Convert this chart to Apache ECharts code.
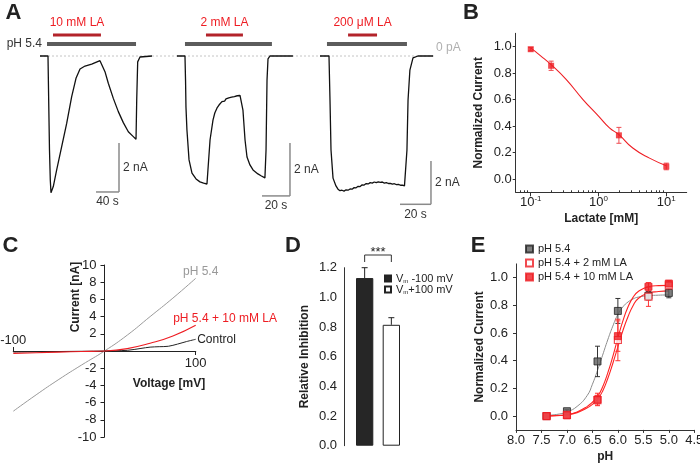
<!DOCTYPE html>
<html><head><meta charset="utf-8">
<script src="https://cdn.jsdelivr.net/npm/echarts@6.0.0/dist/echarts.min.js"></script>
<style>html,body{margin:0;padding:0;background:#fff}#c{width:700px;height:468px}</style>
</head><body><div id="c"></div>
<script>
// ================= DATA =================
// Panel A: current traces [time (s), current (nA)]
const trace1 = [[0,0],[13.9,0],[15.1,-1.8],[16.5,-3.84],[17.9,-5.06],[19.1,-5.58],[23.1,-5.33],[29,-4.65],[37.7,-3.7],[46.4,-2.75],[55.1,-1.66],[62.6,-0.91],[69.6,-0.53],[78.3,-0.41],[89.9,-0.33],[104.3,-0.19],[107.3,-0.23],[113,-0.64],[118.8,-1.11],[127.5,-1.73],[136.2,-2.27],[144.9,-2.72],[153.6,-3.09],[162.3,-3.29],[167,-3.4],[168.2,-1.8],[169.9,-0.24],[173.9,-0.04],[194.8,0]];
const trace2 = [[0,0],[5.7,0],[6.1,-0.91],[6.4,-1.92],[7.1,-2.79],[8.6,-3.92],[10.7,-4.42],[13.6,-4.64],[16.4,-4.75],[19,-4.8],[21.4,-4.83],[22.1,-4.3],[23.6,-3.17],[25.7,-2.42],[27,-2.15],[28.6,-1.96],[30,-1.85],[31,-1.78],[32.1,-1.72],[33,-1.68],[34,-1.7],[35,-1.62],[36,-1.65],[37,-1.58],[38,-1.62],[39,-1.55],[40,-1.6],[41,-1.53],[42,-1.57],[43,-1.5],[44,-1.55],[45,-1.49],[46.4,-1.52],[47.1,-2.04],[48.6,-3.17],[50,-3.81],[52.1,-4.11],[54.3,-4.3],[57.8,-4.45],[60,-4.52],[62.8,-4.6],[63.6,-3.55],[64.3,-0.91],[65,-0.11],[66.4,0],[82.8,0]];
const trace3 = [[0,0],[5.8,0],[6.45,-2.03],[7.1,-4.34],[8.4,-5.64],[10.3,-6.0],[11.6,-6.15],[12.9,-6.22],[14.2,-6.2],[15.5,-6.24],[16.8,-6.18],[18.1,-6.2],[19.4,-6.14],[20.7,-6.15],[22,-6.08],[23.3,-6.09],[24.6,-6.02],[25.9,-6.03],[27.2,-5.95],[28.5,-5.96],[29.8,-5.89],[31.1,-5.91],[32.4,-5.85],[33.7,-5.87],[35,-5.82],[36.3,-5.85],[37.6,-5.81],[38.9,-5.84],[40.2,-5.82],[41.5,-5.87],[42.8,-5.85],[44.1,-5.89],[45.4,-5.88],[46.7,-5.92],[48,-5.9],[49.3,-5.94],[50.6,-5.93],[51.9,-5.97],[53.2,-5.96],[54.5,-6.0],[55.5,-6.0],[56.1,-4.34],[56.8,-2.03],[58,-0.65],[60,-0.09],[63.2,0],[72.9,0]];
const stimPH = [[12.2,167],[5.7,67.8],[4.5,56.1]];     // pH 5.4 application (s)
const stimLA = [[22.6,106],[20.7,47.1],[18.1,36.8]];   // lactate application (s)
const stimLabels = ['10 mM LA','2 mM LA','200 \u03bcM LA'];
const scaleTime = [40,20,20];      // s
const scaleCurrent = [2,2,2];      // nA

// Panel B: dose response
const lacConc = [0.1,0.2,2,10];
const lacMean = [0.98,0.855,0.33,0.095];
const lacErr  = [0.012,0.035,0.06,0.025];
const lacFitConc = [0.1,0.14,0.2,0.33,0.59,1,1.45,2,3.2,5.65,10];
const lacFitVal  = [0.99,0.93,0.863,0.754,0.60,0.475,0.386,0.335,0.234,0.158,0.101];
const logTickLabels = [-1,0,1];

// Panel C: I-V curves
const ivV    = [-100,-75,-50,-25,0,25,50,75,100];
const ivPH   = [-7.0,-5.1,-3.3,-1.62,0,1.85,4.0,6.15,8.45];
const ivLA   = [-0.28,-0.2,-0.13,-0.06,0,0.28,0.9,1.75,3.0];
const ctrlV  = [-100,-50,0,25,40,50,60,70,80,90,100];
const ctrlI  = [-0.12,-0.06,0,0.08,0.3,0.45,0.5,0.55,0.8,1.1,1.36];

// Panel D: relative inhibition
const inhNames = ['Vm -100 mV','Vm+100 mV'];
const inhMean = [1.13,0.815];
const inhErr  = [0.07,0.048];

// Panel E: pH dependence
const phVals = [7.4,7.0,6.4,6.0,5.4,5.0];
const eNames = ['pH 5.4','pH 5.4 + 2 mM LA','pH 5.4 + 10 mM LA'];
const ph54Mean = [0.0,0.035,0.395,0.76,0.87,0.89];
const ph54Err  = [0.005,0.01,0.11,0.09,0.03,0.035];
const la2Mean  = [0.0,0.008,0.115,0.55,0.863,0.945];
const la2Err   = [0.005,0.005,0.035,0.15,0.07,0.02];
const la10Mean = [0.0,0.005,0.12,0.578,0.935,0.958];
const la10Err  = [0.005,0.005,0.045,0.11,0.03,0.02];
const fitPH   = [7.4,7.2,7.0,6.8,6.6,6.5,6.4,6.3,6.2,6.1,6.0,5.9,5.8,5.7,5.6,5.4,5.2,5.0];
const fit54   = [0.005,0.012,0.03,0.07,0.15,0.23,0.33,0.44,0.55,0.65,0.735,0.79,0.825,0.847,0.86,0.87,0.874,0.876];
const fit2    = [0.0,0.003,0.008,0.025,0.06,0.085,0.12,0.18,0.27,0.38,0.5,0.62,0.72,0.8,0.85,0.89,0.9,0.905];
const fit10   = [0.0,0.004,0.01,0.03,0.07,0.1,0.14,0.21,0.31,0.43,0.565,0.69,0.79,0.86,0.9,0.935,0.943,0.945];
const unitTicks = [0,0.2,0.4,0.6,0.8,1.0];

// ================= STYLE / LAYOUT =================
const FONT = "'Liberation Sans', Arial, Helvetica, sans-serif";
const RED = '#ee1d23';
const TXT = '#222';
const traceLayout = [
  {left:40, width:112, sPerPx:40/23, pxPerNA:24.5, corner:[137.4,-5.55]},
  {left:177, width:116, sPerPx:20/28, pxPerNA:26.5, corner:[80.7,-5.28]},
  {left:320, width:113, sPerPx:20/31, pxPerNA:21.65, corner:[71.6,-6.85]}
];
const A_TOP = 30, A_BASE = 56, A_BOTTOM = 220;

const grids = [];
const xAxes = [], yAxes = [];
traceLayout.forEach((t,i)=>{
  grids.push({left:t.left, top:A_TOP, width:t.width, height:A_BOTTOM-A_TOP, outerBoundsMode:'none'});
  xAxes.push({gridIndex:i, type:'value', show:false, min:0, max:t.width*t.sPerPx});
  yAxes.push({gridIndex:i, type:'value', show:false, min:-(A_BOTTOM-A_BASE)/t.pxPerNA, max:(A_BASE-A_TOP)/t.pxPerNA});
});
const gB = {left:515.7, top:33.3, width:171, height:159};
const gC = {left:13.3, top:265, width:182.4, height:172};
const gD = {left:344, top:267.7, width:68, height:178};
const gE = {left:516, top:263.9, width:178.3, height:166};
[gB,gC,gD,gE].forEach(g=>grids.push(Object.assign({outerBoundsMode:'none'}, g)));

const axLine = {show:true, onZero:false, lineStyle:{color:'#333', width:1}};
const lbl = (extra)=>Object.assign({color:TXT, fontSize:13, fontFamily:FONT}, extra||{});
const nameStyle = {color:TXT, fontSize:12, fontWeight:'bold', fontFamily:FONT};
const L = Math.log10;
const minorLog = [];
[-2,-1,0,1].forEach(n=>{for(let k=2;k<=9;k++){const v=L(k)+n; if(v>L(0.06)&&v<L(20)) minorLog.push(v);}});

// C axes cross at the origin
const C_X = [-100,100], C_Y = [-10,10];
const cZeroX = gC.left + gC.width*(0-C_X[0])/(C_X[1]-C_X[0]);
const cZeroY = gC.top + gC.height*(C_Y[1]-0)/(C_Y[1]-C_Y[0]);

// xAxis 3 (B major), 4 (B minor)
xAxes.push({gridIndex:3, type:'value', min:L(0.06), max:L(20), position:'bottom',
  axisLine:axLine, splitLine:{show:false},
  axisTick:{show:true, customValues:logTickLabels, length:4, lineStyle:{color:'#333'}},
  axisLabel:{customValues:logTickLabels, margin:2, formatter:v=>'{b|10}{s|'+Math.round(v)+'}',
    rich:{b:{fontSize:13,color:TXT,fontFamily:FONT}, s:{fontSize:8,color:TXT,fontFamily:FONT,padding:[0,0,9,0]}}},
  name:'Lactate [mM]', nameLocation:'middle', nameGap:20, nameTextStyle:nameStyle});
xAxes.push({gridIndex:3, type:'value', min:L(0.06), max:L(20), position:'bottom',
  axisLine:{show:false, onZero:false}, splitLine:{show:false}, axisLabel:{show:false},
  axisTick:{show:true, inside:true, customValues:minorLog, length:2, lineStyle:{color:'#333'}}});
// xAxis 5 (C bottom), 6 (C top)
xAxes.push({gridIndex:4, type:'value', min:C_X[0], max:C_X[1], position:'bottom', offset:-(gC.top+gC.height-cZeroY),
  axisLine:{show:true, onZero:false, lineStyle:{color:'#222'}}, splitLine:{show:false},
  axisTick:{customValues:[100], length:4, lineStyle:{color:'#222'}},
  axisLabel:lbl({customValues:[100], margin:6})});
xAxes.push({gridIndex:4, type:'value', min:C_X[0], max:C_X[1], position:'top', offset:-(cZeroY-gC.top),
  axisLine:{show:true, onZero:false, lineStyle:{color:'#222'}}, splitLine:{show:false},
  axisTick:{customValues:[-100], length:4, lineStyle:{color:'#222'}},
  axisLabel:lbl({customValues:[-100], margin:4})});
// xAxis 7 (D)
xAxes.push({gridIndex:5, type:'category', data:[''], show:false});
// xAxis 8 (E)
xAxes.push({gridIndex:6, type:'value', min:4.5, max:8.0, interval:0.5, inverse:true,
  axisLine:axLine, splitLine:{show:false},
  axisTick:{length:3, lineStyle:{color:'#333'}},
  axisLabel:lbl({margin:4, formatter:v=>v.toFixed(1)}),
  name:'pH', nameLocation:'middle', nameGap:21, nameTextStyle:nameStyle});

// yAxis 3 (B)
yAxes.push({gridIndex:3, type:'value', min:-0.1, max:1.1, axisLine:axLine, splitLine:{show:false},
  axisTick:{customValues:unitTicks, length:3, lineStyle:{color:'#333'}},
  axisLabel:lbl({customValues:unitTicks, margin:4, formatter:v=>v.toFixed(1)}),
  name:'Normalized Current', nameLocation:'middle', nameGap:31, nameTextStyle:nameStyle});
// yAxis 4 (C)
yAxes.push({gridIndex:4, type:'value', min:C_Y[0], max:C_Y[1], interval:2, position:'left', offset:-(cZeroX-gC.left),
  axisLine:{show:true, onZero:false, lineStyle:{color:'#222'}}, splitLine:{show:false},
  axisTick:{length:4, lineStyle:{color:'#222'}},
  axisLabel:lbl({margin:8, formatter:v=>v===0?'':String(v)})});
// yAxis 5 (D)
yAxes.push({gridIndex:5, type:'value', min:0, max:1.2, interval:0.2, axisLine:axLine, splitLine:{show:false},
  axisTick:{length:4, lineStyle:{color:'#333'}},
  axisLabel:lbl({margin:7, formatter:v=>v.toFixed(1)}),
  name:'Relative Inhibition', nameLocation:'middle', nameGap:33, nameTextStyle:nameStyle});
// yAxis 6 (E)
yAxes.push({gridIndex:6, type:'value', min:-0.1, max:1.1, axisLine:axLine, splitLine:{show:false},
  axisTick:{customValues:unitTicks, length:3, lineStyle:{color:'#333'}},
  axisLabel:lbl({customValues:unitTicks, margin:8, formatter:v=>v.toFixed(1)}),
  name:'Normalized Current', nameLocation:'middle', nameGap:30, nameTextStyle:nameStyle});

// ---------- helpers ----------
function errRender(color, capHalf, upOnly, dx){
  return function(params, api){
    const x = api.value(0), y = api.value(1), e = api.value(2);
    const t = api.coord([x, y+e]), b = api.coord([x, upOnly ? y : y-e]);
    const cx = t[0] + (dx||0);
    const st = {stroke:color, lineWidth:1};
    const ch = [
      {type:'line', shape:{x1:cx,y1:t[1],x2:cx,y2:b[1]}, style:st},
      {type:'line', shape:{x1:cx-capHalf,y1:t[1],x2:cx+capHalf,y2:t[1]}, style:st}
    ];
    if(!upOnly) ch.push({type:'line', shape:{x1:cx-capHalf,y1:b[1],x2:cx+capHalf,y2:b[1]}, style:st});
    return {type:'group', children:ch};
  };
}
const zipErr = (xs, ys, es)=>xs.map((x,i)=>[x, ys[i], es[i]]);
const zip = (xs, ys)=>xs.map((x,i)=>[x, ys[i]]);

const series = [];
// ----- Panel A -----
[trace1, trace2, trace3].forEach((tr,i)=>{
  series.push({type:'line', xAxisIndex:i, yAxisIndex:i, data:tr, showSymbol:false, silent:true,
    lineStyle:{color:'#111', width:1.3}, z:3});
  series.push({type:'custom', xAxisIndex:i, yAxisIndex:i, silent:true, z:4,
    data:[[stimPH[i][0], stimPH[i][1], stimLA[i][0], stimLA[i][1], i]],
    renderItem:function(params, api){
      const k = api.value(4);
      const a = api.coord([api.value(0),0]), b = api.coord([api.value(1),0]);
      const c = api.coord([api.value(2),0]), d = api.coord([api.value(3),0]);
      const y0 = a[1];
      const ch = [
        {type:'rect', shape:{x:a[0], y:y0-14, width:b[0]-a[0], height:4}, style:{fill:'#5c5c5c'}},
        {type:'rect', shape:{x:c[0], y:y0-22.5, width:d[0]-c[0], height:3}, style:{fill:'#b3232a'}},
        {type:'text', x:(c[0]+d[0])/2, y:y0-33, style:{text:stimLabels[k], fill:RED, fontSize:12, fontFamily:FONT, align:'center', verticalAlign:'middle'}}
      ];
      if(k===0) ch.push({type:'text', x:a[0]-5, y:y0-12, style:{text:'pH 5.4', fill:'#333', fontSize:12, fontFamily:FONT, align:'right', verticalAlign:'middle'}});
      return {type:'group', children:ch};
    }});
  series.push({type:'custom', xAxisIndex:i, yAxisIndex:i, silent:true, z:4,
    data:[[traceLayout[i].corner[0], traceLayout[i].corner[1], scaleTime[i], scaleCurrent[i]]],
    renderItem:function(params, api){
      const t = api.value(0), v = api.value(1), dt = api.value(2), di = api.value(3);
      const c = api.coord([t,v]), top = api.coord([t,v+di]), left = api.coord([t-dt,v]);
      const st = {stroke:'#8a8a8a', lineWidth:1.5};
      return {type:'group', children:[
        {type:'line', shape:{x1:c[0],y1:c[1],x2:top[0],y2:top[1]}, style:st},
        {type:'line', shape:{x1:left[0],y1:c[1],x2:c[0],y2:c[1]}, style:st},
        {type:'text', x:c[0]+4, y:(c[1]+top[1])/2, style:{text:di+' nA', fill:'#333', fontSize:12, fontFamily:FONT, align:'left', verticalAlign:'middle'}},
        {type:'text', x:(c[0]+left[0])/2, y:c[1]+10, style:{text:dt+' s', fill:'#333', fontSize:12, fontFamily:FONT, align:'center', verticalAlign:'middle'}}
      ]};
    }});
});
// ----- Panel B -----
series.push({type:'line', xAxisIndex:3, yAxisIndex:3, data:zip(lacFitConc.map(L), lacFitVal), smooth:true, showSymbol:false, silent:true, lineStyle:{color:RED, width:1.1}, z:2});
series.push({type:'custom', xAxisIndex:3, yAxisIndex:3, silent:true, z:3, data:zipErr(lacConc.map(L), lacMean, lacErr), renderItem:errRender('#f04a50',2.5,false)});
series.push({type:'scatter', name:'lactate', xAxisIndex:3, yAxisIndex:3, data:zip(lacConc.map(L), lacMean), symbol:'rect', symbolSize:6, silent:true, itemStyle:{color:RED}, z:4});
// ----- Panel C -----
series.push({type:'line', name:'ivPH', xAxisIndex:5, yAxisIndex:4, data:zip(ivV, ivPH), smooth:true, showSymbol:false, silent:true, lineStyle:{color:'#9a9a9a', width:1}, z:2});
series.push({type:'line', name:'ivCtrl', xAxisIndex:5, yAxisIndex:4, data:zip(ctrlV, ctrlI), smooth:0.3, showSymbol:false, silent:true, lineStyle:{color:'#222', width:1}, z:3});
series.push({type:'line', name:'ivLA', xAxisIndex:5, yAxisIndex:4, data:zip(ivV, ivLA), smooth:true, showSymbol:false, silent:true, lineStyle:{color:RED, width:1.1}, z:4});
// ----- Panel D -----
const BAR_W = 17.3, BAR_GAP = 9.4;
series.push({type:'bar', name:inhNames[0], xAxisIndex:7, yAxisIndex:5, data:[inhMean[0]], barWidth:BAR_W, barGap:(BAR_GAP/BAR_W*100)+'%', silent:true, itemStyle:{color:'#262626', borderColor:'#222', borderWidth:1}, z:2});
series.push({type:'bar', name:inhNames[1], xAxisIndex:7, yAxisIndex:5, data:[inhMean[1]], barWidth:BAR_W, barGap:(BAR_GAP/BAR_W*100)+'%', silent:true, itemStyle:{color:'#fff', borderColor:'#222', borderWidth:1}, z:2});
inhMean.forEach((m,i)=>{
  series.push({type:'custom', xAxisIndex:7, yAxisIndex:5, silent:true, z:1, data:[[0, m, inhErr[i]]], renderItem:errRender('#222',3,true,(i===0?-1:1)*(BAR_W+BAR_GAP)/2)});
});
series.push({type:'custom', xAxisIndex:7, yAxisIndex:5, silent:true, z:3,
  data:[[0, Math.max(...inhMean.map((m,i)=>m+inhErr[i]))]],
  renderItem:function(params, api){
    const p = api.coord([0, api.value(1)]);
    const off = (BAR_W+BAR_GAP)/2, y = p[1]-12.7;
    return {type:'group', children:[
      {type:'polyline', shape:{points:[[p[0]-off,y+7],[p[0]-off,y],[p[0]+off,y],[p[0]+off,y+7]]}, style:{stroke:'#333', lineWidth:1, fill:null}},
      {type:'text', x:p[0], y:y-3, style:{text:'***', fill:'#222', fontSize:13, fontFamily:FONT, align:'center', verticalAlign:'middle'}}
    ]};
  }});
// ----- Panel E -----
series.push({type:'line', xAxisIndex:8, yAxisIndex:6, data:zip(fitPH, fit54), smooth:true, showSymbol:false, silent:true, lineStyle:{color:'#8c8c8c', width:1}, z:2});
series.push({type:'line', xAxisIndex:8, yAxisIndex:6, data:zip(fitPH, fit2), smooth:true, showSymbol:false, silent:true, lineStyle:{color:'#f22', width:1.1}, z:2});
series.push({type:'line', xAxisIndex:8, yAxisIndex:6, data:zip(fitPH, fit10), smooth:true, showSymbol:false, silent:true, lineStyle:{color:'#f22', width:1.1}, z:2});
series.push({type:'custom', xAxisIndex:8, yAxisIndex:6, silent:true, z:3, data:zipErr(phVals, ph54Mean, ph54Err), renderItem:errRender('#333',2.5,false)});
series.push({type:'custom', xAxisIndex:8, yAxisIndex:6, silent:true, z:3, data:zipErr(phVals, la2Mean, la2Err), renderItem:errRender('#f33',2.5,false)});
series.push({type:'custom', xAxisIndex:8, yAxisIndex:6, silent:true, z:3, data:zipErr(phVals, la10Mean, la10Err), renderItem:errRender('#f33',2.5,false)});
series.push({type:'scatter', name:eNames[0], xAxisIndex:8, yAxisIndex:6, data:zip(phVals, ph54Mean), symbol:'rect', symbolSize:7, silent:true, itemStyle:{color:'#5e5e5e', borderColor:'#222', borderWidth:1}, z:4});
series.push({type:'scatter', name:eNames[1], xAxisIndex:8, yAxisIndex:6, data:zip(phVals, la2Mean), symbol:'rect', symbolSize:7, silent:true, itemStyle:{color:'#fff', borderColor:RED, borderWidth:1.2}, z:5});
series.push({type:'scatter', name:eNames[2], xAxisIndex:8, yAxisIndex:6, data:zip(phVals, la10Mean), symbol:'rect', symbolSize:7, silent:true, itemStyle:{color:RED, borderColor:RED, borderWidth:1}, z:6});

const legTxt = {color:TXT, fontSize:11, fontFamily:FONT, lineHeight:11};
const letter = (t,x,y)=>({type:'text', x:x, y:y, style:{text:t, fontSize:22, fontWeight:'bold', fill:'#222', fontFamily:FONT, align:'center', verticalAlign:'middle'}});
const option = {
  animation:false,
  textStyle:{fontFamily:FONT},
  grid:grids, xAxis:xAxes, yAxis:yAxes, series:series,
  legend:[
    {data:eNames, orient:'vertical', left:525, top:243.5, padding:0, itemGap:3, itemWidth:7, itemHeight:7, icon:'rect', selectedMode:false, textStyle:legTxt},
    {data:inhNames, orient:'vertical', left:384, top:273, padding:0, itemGap:0, itemWidth:6, itemHeight:6, icon:'rect', selectedMode:false,
      formatter:n=>n.replace('Vm','V{s|m}'),
      textStyle:Object.assign({}, legTxt, {rich:{s:{fontSize:6, color:TXT, fontFamily:FONT, verticalAlign:'bottom'}}})}
  ],
  graphic:[
    letter('A',13.5,13), letter('B',471,13), letter('C',10.5,246), letter('D',293,246), letter('E',478,246),
    {type:'text', x:76, y:297, rotation:Math.PI/2, style:{text:'Current [nA]', fontSize:12, fontWeight:'bold', fill:TXT, fontFamily:FONT, align:'center', verticalAlign:'middle'}},
    {type:'text', x:169, y:384, style:{text:'Voltage [mV]', fontSize:12, fontWeight:'bold', fill:TXT, fontFamily:FONT, align:'center', verticalAlign:'middle'}}
  ]
};
const chart = echarts.init(document.getElementById('c'), null, {renderer:'canvas'});
chart.setOption(option);

// annotations anchored on data through the axes
const p0 = chart.convertToPixel({gridIndex:0}, [0,0]);
const p1 = chart.convertToPixel({gridIndex:2}, [trace3[trace3.length-1][0],0]);
const ePH = chart.convertToPixel({gridIndex:4}, [ivV[ivV.length-1], ivPH[ivPH.length-1]]);
const eLA = chart.convertToPixel({gridIndex:4}, [ivV[ivV.length-1], ivLA[ivLA.length-1]]);
const eCt = chart.convertToPixel({gridIndex:4}, [ctrlV[ctrlV.length-1], ctrlI[ctrlI.length-1]]);
chart.setOption({graphic:option.graphic.concat([
  {type:'line', z:-1, shape:{x1:p0[0], y1:p0[1], x2:p1[0]+2, y2:p1[1]}, style:{stroke:'#c4c4c4', lineWidth:1, lineDash:[2,2]}},
  {type:'text', x:p1[0]+3, y:p1[1]-8, style:{text:'0 pA', fontSize:12, fill:'#b0b0b0', fontFamily:FONT, align:'left', verticalAlign:'middle'}},
  {type:'text', x:ePH[0]+5, y:ePH[1]-6.5, style:{text:'pH 5.4', fontSize:12, fill:'#999', fontFamily:FONT, align:'center', verticalAlign:'middle'}},
  {type:'text', x:eLA[0]-22.5, y:eLA[1]-7, style:{text:'pH 5.4 + 10 mM LA', fontSize:12, fill:RED, fontFamily:FONT, align:'left', verticalAlign:'middle'}},
  {type:'text', x:eCt[0]+1.5, y:eCt[1], style:{text:'Control', fontSize:12, fill:'#222', fontFamily:FONT, align:'left', verticalAlign:'middle'}}
])});
</script>
</body></html>
